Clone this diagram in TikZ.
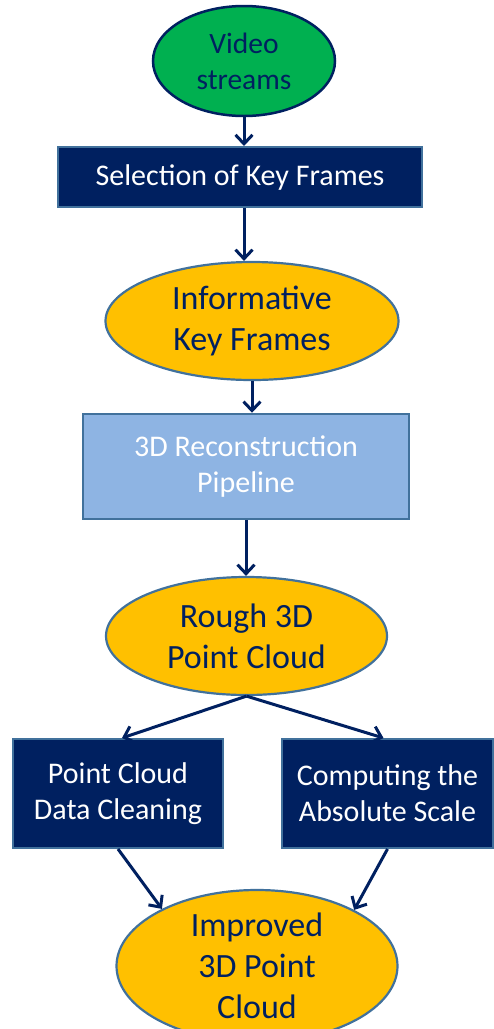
\documentclass[tikz,border=0pt]{standalone}
\usepackage{fontspec}
\setmainfont{Carlito}
\usetikzlibrary{shapes.geometric,arrows.meta}
\definecolor{navy}{HTML}{002060}
\definecolor{edgeblue}{HTML}{41719C}
\definecolor{gold}{HTML}{FFC000}
\definecolor{leaf}{HTML}{00B050}
\definecolor{pale}{HTML}{8EB4E3}
\tikzset{
  oval/.style={ellipse, draw=edgeblue, line width=2.2pt, fill=gold, text=navy,
    inner sep=0pt, align=center, font=\fontsize{34}{41}\selectfont},
  startoval/.style={oval, draw=navy, line width=2.5pt, fill=leaf, font=\fontsize{29.5}{36}\selectfont},
  darkbox/.style={rectangle, draw=edgeblue, line width=2pt, fill=navy, text=white,
    inner sep=0pt, align=center, font=\fontsize{30}{36}\selectfont},
  palebox/.style={darkbox, fill=pale, line width=2.5pt},
  flow/.style={draw=navy, line width=3pt, -{Straight Barb[length=9pt,width=17pt]}}
}
\begin{document}
\begin{tikzpicture}[x=1pt,y=-1pt]
\useasboundingbox (0,0) rectangle (494,1029);

\node[startoval, minimum width=182pt, minimum height=110pt] (vid) at (244,61) {Video\\streams};
\node[darkbox, minimum width=364pt, minimum height=60pt] (sel) at (240,177) {Selection of Key Frames};
\node[oval, minimum width=293pt, minimum height=118pt] (inf) at (252,321) {Informative\\Key Frames};
\node[palebox, minimum width=326pt, minimum height=105pt] (rec) at (246,466.5) {3D Reconstruction\\Pipeline};
\node[oval, minimum width=281pt, minimum height=118pt] (rough) at (246.5,636) {Rough 3D\\Point Cloud};
\node[darkbox, minimum width=210pt, minimum height=109pt] (clean) at (118,793.5) {Point Cloud\\Data Cleaning};
\node[darkbox, minimum width=211pt, minimum height=109pt] (scale) at (387.5,793.5) {Computing the\\Absolute Scale};
\node[oval, minimum width=281pt, minimum height=152pt] (imp) at (257,966) {Improved\\3D Point\\Cloud};

\draw[flow] (vid.south) -- (vid.south |- sel.north);
\draw[flow] (sel.south -| vid.south) -- (vid.south |- inf.north);
\draw[flow] (inf.south) -- (inf.south |- rec.north);
\draw[flow] (rec.south) -- (rec.south |- rough.north);
\draw[flow] (rough.south) -- ([xshift=4pt]clean.north);
\draw[flow] (rough.south) -- ([xshift=-4pt]scale.north);
\draw[flow] (clean.south) -- (imp.149);
\draw[flow] (scale.south) -- (imp.30);
\end{tikzpicture}
\end{document}
